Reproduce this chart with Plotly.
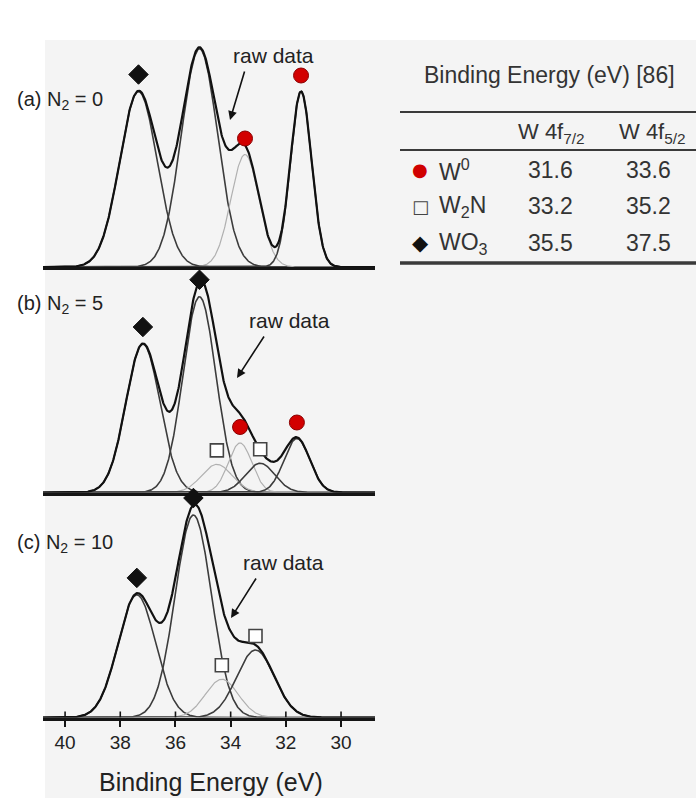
import numpy as np
import plotly.graph_objects as go

W, H = 696, 798
FONT = "Liberation Sans, Arial, Helvetica, sans-serif"

# Reference binding energies (eV) listed in the side table
table_species = ["W<sup>0</sup>", "W<sub>2</sub>N", "WO<sub>3</sub>"]
table_symbols = ["●", "□", "◆"]
table_symbol_colors = ["#d00000", "#444444", "#111111"]
table_symbol_sizes = [18, 18, 21]
table_w4f72 = ["31.6", "33.2", "35.5"]
table_w4f52 = ["33.6", "35.2", "37.5"]

# Fitted W 4f components for each N2 flow: species, centre (eV), normalised height, FWHM (eV)
panel_labels = ["(a) N<sub>2</sub> = 0", "(b) N<sub>2</sub> = 5", "(c) N<sub>2</sub> = 10"]

a_species = ["WO3", "WO3", "W0", "W0"]
a_center = [37.34, 35.13, 33.48, 31.45]
a_height = [0.78, 0.97, 0.50, 0.78]
a_fwhm = [1.6, 1.55, 1.2, 0.9]
a_faint = [False, False, True, False]

b_species = ["WO3", "WO3", "W2N", "W0", "W2N", "W0"]
b_center = [37.18, 35.13, 34.50, 33.66, 32.93, 31.60]
b_height = [0.66, 0.87, 0.125, 0.22, 0.13, 0.24]
b_fwhm = [1.45, 1.4, 1.3, 1.0, 1.25, 1.1]
b_faint = [False, False, True, True, False, False]

c_species = ["WO3", "WO3", "W2N", "W2N"]
c_center = [37.40, 35.35, 34.32, 33.10]
c_height = [0.545, 0.90, 0.17, 0.30]
c_fwhm = [1.6, 1.55, 1.4, 1.6]
c_faint = [False, False, True, False]

x_ticks = [40, 38, 36, 34, 32, 30]
x_range = [40.80, 28.77]

panels = [
    (a_species, a_center, a_height, a_fwhm, a_faint),
    (b_species, b_center, b_height, b_fwhm, b_faint),
    (c_species, c_center, c_height, c_fwhm, c_faint),
]


def px(x):
    return x / W


def py(y):
    return 1 - y / H


# page layout (pixels): strip baselines, strip height, label and arrow placement
baselines = [267.0, 492.5, 717.5]
strip_h = 225.0
x_dom = [px(43), px(375)]
label_pos = [(15, 100), (15, 305), (15, 543)]
raw_text_pos = [(273, 55), (289, 320), (283, 562)]
arrow_tip = [(230, 120), (237, 378), (231, 618)]
arrow_tail = [(245, 70), (265, 335), (257, 577)]

marker_style = {
    "WO3": dict(symbol="diamond", size=15, color="#111111", line=dict(color="#111111", width=1)),
    "W0": dict(symbol="circle", size=15, color="#d20000", line=dict(color="#8a0000", width=1)),
    "W2N": dict(symbol="square", size=13, color="#ffffff", line=dict(color="#444444", width=1.6)),
}
marker_lift = {"WO3": 17, "W0": 16, "W2N": 14}


def gauss(e, c, h, fw):
    s = fw / 2.3548
    return h * np.exp(-0.5 * ((e - c) / s) ** 2)


energy = np.linspace(x_range[0], x_range[1], 700)

fig = go.Figure()
annotations = []
shapes = []

# page tint behind the spectra and table
shapes.append(dict(type="rect", xref="paper", yref="paper", x0=px(45), x1=1, y0=0, y1=py(40),
                   fillcolor="#f4f4f4", line=dict(width=0), layer="below"))

for i, (sp, cen, hgt, fw, faint) in enumerate(panels):
    n = "" if i == 0 else str(i + 1)
    xa, ya = "x" + n, "y" + n
    total = np.zeros_like(energy)
    for s, c, h, f, fa in zip(sp, cen, hgt, fw, faint):
        comp = gauss(energy, c, h, f)
        total += comp
        fig.add_trace(go.Scatter(
            x=energy, y=comp, mode="lines", xaxis=xa, yaxis=ya, showlegend=False,
            line=dict(color="#b0b0b0" if fa else "#3c3c3c", width=1.2 if fa else 1.6),
            hoverinfo="skip"))
    fig.add_trace(go.Scatter(
        x=energy, y=total, mode="lines", xaxis=xa, yaxis=ya, showlegend=False,
        line=dict(color="#111111", width=2.2), hoverinfo="skip"))

    # species markers above each component
    for kind in ["WO3", "W0", "W2N"]:
        xs = [c for s, c in zip(sp, cen) if s == kind]
        ys = [h + marker_lift[kind] / strip_h for s, h in zip(sp, hgt) if s == kind]
        if xs:
            fig.add_trace(go.Scatter(
                x=xs, y=ys, mode="markers", xaxis=xa, yaxis=ya, showlegend=False,
                marker=marker_style[kind], cliponaxis=False, hoverinfo="skip"))

    # arrow pointing at the measured envelope
    tx, ty = arrow_tip[i]
    sx, sy = arrow_tail[i]
    annotations.append(dict(
        x=px(tx), y=py(ty), xref="paper", yref="paper", ax=sx - tx, ay=sy - ty, text="",
        showarrow=True, arrowhead=2, arrowsize=1.1, arrowwidth=1.6, arrowcolor="#111111"))
    rx, ry = raw_text_pos[i]
    annotations.append(dict(
        x=px(rx), y=py(ry), xref="paper", yref="paper", xanchor="center", yanchor="middle",
        text="raw data", showarrow=False, font=dict(family=FONT, size=21, color="#222222")))

    # panel label
    lx, ly = label_pos[i]
    annotations.append(dict(
        x=px(lx), y=py(ly), xref="paper", yref="paper", xanchor="left", yanchor="middle",
        text=panel_labels[i], showarrow=False, font=dict(family=FONT, size=20, color="#222222")))

# axes for the three stacked strips
layout_axes = {}
for i in range(3):
    n = "" if i == 0 else str(i + 1)
    base = baselines[i]
    layout_axes["xaxis" + n] = dict(
        domain=x_dom, range=x_range, anchor="y" + n, showline=True, linewidth=3,
        linecolor="#151515", showgrid=False, zeroline=False,
        showticklabels=(i == 2), ticks="outside" if i == 2 else "",
        tickvals=x_ticks if i == 2 else None,
        ticktext=[str(t) for t in x_ticks] if i == 2 else None,
        ticklen=6, tickwidth=1.6, tickcolor="#151515",
        tickfont=dict(family=FONT, size=19, color="#222222"))
    layout_axes["yaxis" + n] = dict(
        domain=[py(base), py(base - strip_h)], range=[0, 1], visible=False, anchor="x" + n)

# tick marks crossing above the bottom axis line
for t in x_ticks:
    shapes.append(dict(type="line", xref="x3", yref="y3", x0=t, x1=t, y0=0, y1=6 / strip_h,
                       line=dict(color="#151515", width=1.6)))

annotations.append(dict(
    x=px(211), y=py(782), xref="paper", yref="paper", xanchor="center", yanchor="middle",
    text="Binding Energy (eV)", showarrow=False, font=dict(family=FONT, size=25, color="#222222")))

# side table of reference binding energies
TFONT = dict(family=FONT, size=23, color="#333333")
annotations.append(dict(
    x=px(549), y=py(75), xref="paper", yref="paper", xanchor="center", yanchor="middle",
    text="Binding Energy (eV) [86]", showarrow=False, font=TFONT))
for hx, htxt in [(551, "W 4f<sub>7/2</sub>"), (652, "W 4f<sub>5/2</sub>")]:
    annotations.append(dict(
        x=px(hx), y=py(133), xref="paper", yref="paper", xanchor="center", yanchor="middle",
        text=htxt, showarrow=False, font=dict(family=FONT, size=22, color="#333333")))
for rule_y, rule_w in [(112, 2), (150, 2), (263, 3.5)]:
    shapes.append(dict(type="line", xref="paper", yref="paper", x0=px(400), x1=1,
                       y0=py(rule_y), y1=py(rule_y), line=dict(color="#3a3a3a", width=rule_w)))
row_y = [170, 206, 243]
for ry, sym, scol, ssz, name, v72, v52 in zip(row_y, table_symbols, table_symbol_colors,
                                               table_symbol_sizes, table_species,
                                               table_w4f72, table_w4f52):
    annotations.append(dict(
        x=px(420), y=py(ry), xref="paper", yref="paper", xanchor="center", yanchor="middle",
        text=sym, showarrow=False, font=dict(family="DejaVu Sans", size=ssz, color=scol)))
    annotations.append(dict(
        x=px(437), y=py(ry), xref="paper", yref="paper", xanchor="left", yanchor="middle",
        text=name, showarrow=False, font=TFONT))
    for vx, val in [(550, v72), (648, v52)]:
        annotations.append(dict(
            x=px(vx), y=py(ry), xref="paper", yref="paper", xanchor="center", yanchor="middle",
            text=val, showarrow=False, font=TFONT))

fig.update_layout(
    width=W, height=H, margin=dict(l=0, r=0, t=0, b=0),
    paper_bgcolor="#ffffff", plot_bgcolor="rgba(0,0,0,0)",
    showlegend=False, annotations=annotations, shapes=shapes, **layout_axes)

fig.write_html("out.html")
